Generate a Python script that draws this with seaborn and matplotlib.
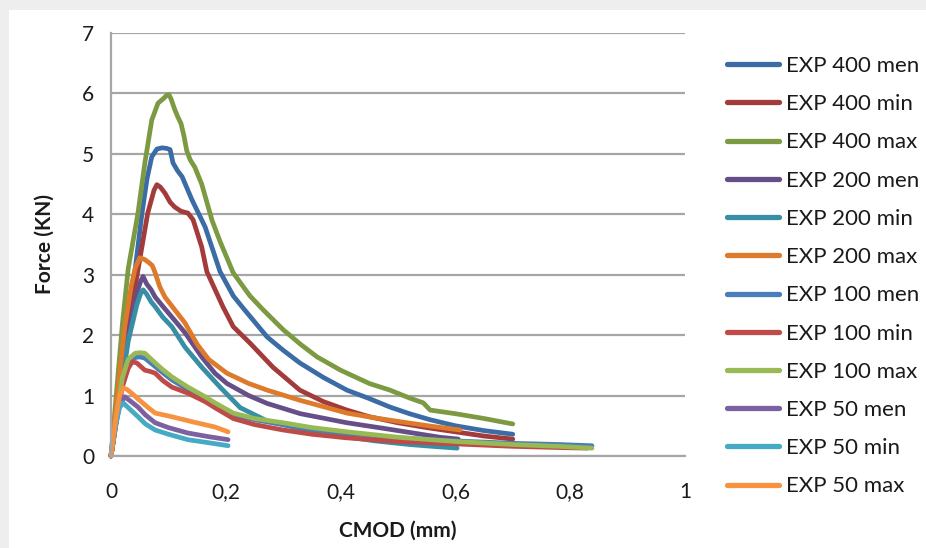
import matplotlib
matplotlib.use("Agg")
import matplotlib.pyplot as plt
from matplotlib.patches import Rectangle
from matplotlib.lines import Line2D
import seaborn as sns
import pandas as pd

# ---------------- data ----------------
x_400_men = [0, 0.015, 0.03, 0.042, 0.054, 0.063, 0.071, 0.08, 0.089, 0.097, 0.103, 0.108, 0.116, 0.124, 0.141,
             0.164, 0.19, 0.213, 0.23, 0.272, 0.30, 0.329, 0.37, 0.411, 0.45, 0.486, 0.52, 0.556, 0.60, 0.65, 0.70]
y_400_men = [0, 1.2, 2.3, 3.08, 4.02, 4.6, 4.95, 5.08, 5.10, 5.09, 5.07, 4.85, 4.72, 4.62, 4.24,
             3.79, 3.05, 2.65, 2.45, 1.97, 1.75, 1.54, 1.3, 1.09, 0.95, 0.81, 0.7, 0.6, 0.5, 0.42, 0.36]

x_400_min = [0, 0.015, 0.03, 0.047, 0.064, 0.075, 0.080, 0.086, 0.094, 0.103, 0.111, 0.122, 0.134, 0.143, 0.158,
             0.167, 0.195, 0.213, 0.242, 0.282, 0.329, 0.37, 0.411, 0.45, 0.5, 0.55, 0.6, 0.65, 0.70]
y_400_min = [0, 1.0, 2.1, 3.08, 4.02, 4.4, 4.49, 4.45, 4.35, 4.2, 4.12, 4.05, 4.02, 3.91, 3.46,
             3.05, 2.47, 2.14, 1.87, 1.47, 1.09, 0.9, 0.76, 0.65, 0.55, 0.47, 0.4, 0.33, 0.28]

x_400_max = [0, 0.01, 0.02, 0.03, 0.047, 0.059, 0.071, 0.082, 0.092, 0.097, 0.101, 0.105, 0.110, 0.116, 0.122,
             0.127, 0.132, 0.138, 0.146, 0.158, 0.176, 0.19, 0.213, 0.242, 0.265, 0.30, 0.33, 0.359, 0.40, 0.45,
             0.486, 0.52, 0.544, 0.556, 0.60, 0.65, 0.70]
y_400_max = [0, 1.1, 2.2, 3.1, 4.02, 4.85, 5.56, 5.84, 5.92, 5.97, 5.98, 5.9, 5.76, 5.62, 5.5,
             5.3, 5.05, 4.9, 4.78, 4.5, 3.9, 3.55, 3.03, 2.65, 2.42, 2.09, 1.85, 1.64, 1.42, 1.2,
             1.09, 0.96, 0.88, 0.76, 0.7, 0.62, 0.53]

x_200_men = [0, 0.015, 0.03, 0.045, 0.052, 0.056, 0.062, 0.07, 0.077, 0.09, 0.106, 0.129, 0.158, 0.181, 0.202,
             0.24, 0.272, 0.33, 0.411, 0.48, 0.54, 0.573, 0.605]
y_200_men = [0, 1.0, 2.0, 2.7, 2.9, 2.97, 2.85, 2.75, 2.63, 2.48, 2.30, 2.04, 1.64, 1.37, 1.2,
             1.0, 0.87, 0.7, 0.55, 0.45, 0.36, 0.31, 0.28]

x_200_min = [0, 0.015, 0.03, 0.045, 0.052, 0.056, 0.062, 0.07, 0.077, 0.09, 0.106, 0.129, 0.158, 0.19, 0.225,
             0.272, 0.33, 0.4, 0.46, 0.52, 0.56, 0.603]
y_200_min = [0, 0.95, 1.9, 2.5, 2.7, 2.75, 2.68, 2.55, 2.47, 2.3, 2.14, 1.80, 1.47, 1.14, 0.8,
             0.58, 0.45, 0.33, 0.25, 0.19, 0.16, 0.13]

x_200_max = [0, 0.012, 0.024, 0.035, 0.042, 0.05, 0.059, 0.066, 0.072, 0.077, 0.085, 0.094, 0.111, 0.129, 0.15,
             0.17, 0.202, 0.24, 0.272, 0.33, 0.411, 0.46, 0.516, 0.56, 0.608]
y_200_max = [0, 1.1, 2.14, 2.8, 3.1, 3.28, 3.25, 3.2, 3.15, 3.03, 2.8, 2.63, 2.42, 2.2, 1.85,
             1.6, 1.37, 1.2, 1.09, 0.92, 0.71, 0.63, 0.55, 0.49, 0.43]

x_100 = [0, 0.01, 0.02, 0.03, 0.042, 0.05, 0.059, 0.068, 0.077, 0.09, 0.106, 0.134, 0.164, 0.181, 0.213,
         0.25, 0.30, 0.35, 0.411, 0.5, 0.6, 0.7, 0.78, 0.838]
y_100_men = [0, 0.68, 1.25, 1.55, 1.63, 1.64, 1.62, 1.55, 1.48, 1.38, 1.26, 1.1, 0.95, 0.85, 0.68,
             0.6, 0.52, 0.45, 0.38, 0.3, 0.25, 0.21, 0.19, 0.17]
y_100_max = [0, 0.7, 1.3, 1.6, 1.70, 1.71, 1.70, 1.62, 1.54, 1.43, 1.31, 1.14, 0.98, 0.88, 0.71,
             0.62, 0.55, 0.47, 0.40, 0.31, 0.24, 0.19, 0.16, 0.13]
x_100_min = [0, 0.01, 0.02, 0.03, 0.037, 0.045, 0.052, 0.059, 0.068, 0.077, 0.09, 0.106, 0.134, 0.164, 0.181,
             0.213, 0.25, 0.30, 0.35, 0.411, 0.5, 0.6, 0.7, 0.78, 0.83]
y_100_min = [0, 0.6, 1.15, 1.45, 1.56, 1.54, 1.48, 1.42, 1.40, 1.37, 1.25, 1.14, 1.04, 0.9, 0.8,
             0.62, 0.52, 0.43, 0.36, 0.30, 0.24, 0.2, 0.16, 0.14, 0.13]

x_50_men = [0, 0.008, 0.015, 0.024, 0.035, 0.047, 0.06, 0.077, 0.1, 0.134, 0.17, 0.204]
y_50_men = [0, 0.55, 0.85, 0.98, 0.9, 0.81, 0.68, 0.55, 0.47, 0.38, 0.32, 0.27]
x_50_min = [0, 0.008, 0.015, 0.021, 0.03, 0.047, 0.06, 0.077, 0.1, 0.134, 0.17, 0.204]
y_50_min = [0, 0.5, 0.8, 0.88, 0.8, 0.65, 0.53, 0.43, 0.36, 0.27, 0.22, 0.17]
x_50_max = [0, 0.008, 0.015, 0.021, 0.028, 0.036, 0.05, 0.065, 0.077, 0.106, 0.14, 0.181, 0.204]
y_50_max = [0, 0.6, 1.0, 1.13, 1.1, 1.04, 0.92, 0.8, 0.71, 0.65, 0.57, 0.48, 0.40]

series_names = ["EXP 400 men", "EXP 400 min", "EXP 400 max",
                "EXP 200 men", "EXP 200 min", "EXP 200 max",
                "EXP 100 men", "EXP 100 min", "EXP 100 max",
                "EXP 50 men", "EXP 50 min", "EXP 50 max"]
series_x = [x_400_men, x_400_min, x_400_max, x_200_men, x_200_min, x_200_max,
            x_100, x_100_min, x_100, x_50_men, x_50_min, x_50_max]
series_y = [y_400_men, y_400_min, y_400_max, y_200_men, y_200_min, y_200_max,
            y_100_men, y_100_min, y_100_max, y_50_men, y_50_min, y_50_max]

xticks = [0, 0.2, 0.4, 0.6, 0.8, 1.0]
xtick_labels = ["0", "0,2", "0,4", "0,6", "0,8", "1"]
yticks = [0, 1, 2, 3, 4, 5, 6, 7]

colors = ["#3C6CA5", "#A23B3A", "#7C9A42", "#664F88", "#388EA4", "#DD7A2C",
          "#4A7EBB", "#BE4B48", "#98B954", "#7D60A0", "#46AAC5", "#F69240"]

# ---------------- build long table ----------------
rows = []
for name, xs, ys in zip(series_names, series_x, series_y):
    for i, (xv, yv) in enumerate(zip(xs, ys)):
        rows.append({"series": name, "CMOD": xv, "Force": yv, "order": i})
df = pd.DataFrame(rows)

sns.set_theme(style="white")
plt.rcParams["font.family"] = ["Lato", "DejaVu Sans"]

W, H = 926, 548
fig = plt.figure(figsize=(W / 100, H / 100), dpi=100)
fig.patch.set_facecolor("#EEEEEE")
fig.add_artist(Rectangle((9 / W, 0), 1, 1 - 10 / H, transform=fig.transFigure,
                         facecolor="white", edgecolor="none", zorder=0))

ax = fig.add_axes([111 / W, 1 - 456 / H, (685 - 111) / W, (456 - 33) / H])
ax.set_facecolor("white")

palette = dict(zip(series_names, colors))
sns.lineplot(data=df, x="CMOD", y="Force", hue="series", hue_order=series_names,
             palette=palette, sort=False, estimator=None, units="series",
             linewidth=3.4, ax=ax, legend=False)
for ln in ax.lines:
    ln.set_clip_on(False)
    ln.set_solid_joinstyle("round")
    ln.set_solid_capstyle("round")

ax.set_xlim(0, 1)
ax.set_ylim(0, 7)
ax.set_xticks(xticks)
ax.set_xticklabels(xtick_labels)
ax.set_yticks(yticks)
ax.set_yticklabels([str(v) for v in yticks])

grid_c = "#A6A6A6"
ax.yaxis.grid(True, color=grid_c, linewidth=1.6)
ax.xaxis.grid(False)
ax.set_axisbelow(True)
for s in ["top", "right"]:
    ax.spines[s].set_visible(False)
for s in ["left", "bottom"]:
    ax.spines[s].set_color(grid_c)
    ax.spines[s].set_linewidth(1.6)
ax.tick_params(axis="both", direction="out", length=6, width=1.6, color=grid_c,
               labelsize=15, labelcolor="#1A1A1A")
ax.tick_params(axis="x", pad=13)
ax.tick_params(axis="y", pad=6)

ax.set_xlabel("CMOD (mm)", fontsize=15, fontweight="bold", color="#1A1A1A", labelpad=13)
ax.set_ylabel("Force (KN)", fontsize=15, fontweight="bold", color="#1A1A1A", labelpad=20)

handles = [Line2D([0], [0], color=c, lw=3.8, solid_capstyle="round") for c in colors]
leg = fig.legend(handles, series_names, loc="upper left",
                 bbox_to_anchor=(727 / W, 1 - 56 / H), bbox_transform=fig.transFigure,
                 frameon=False, fontsize=16, handlelength=2.35, handletextpad=0.3,
                 labelspacing=0.82, borderpad=0, borderaxespad=0)
for t in leg.get_texts():
    t.set_color("#1A1A1A")

fig.savefig("out.png", dpi=100, facecolor=fig.get_facecolor())
